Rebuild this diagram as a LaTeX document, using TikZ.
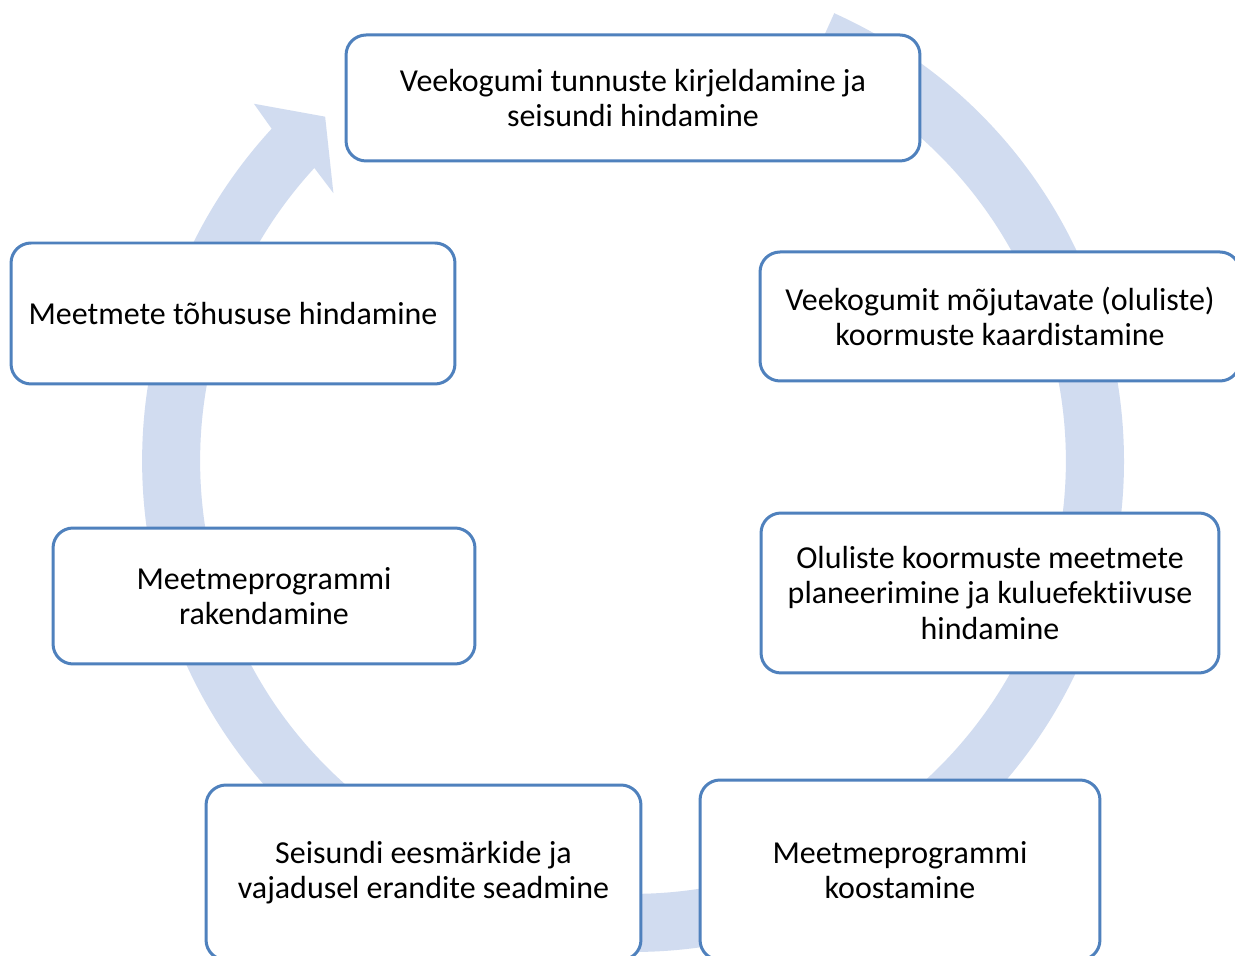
\documentclass[tikz,border=0pt]{standalone}
\usepackage{fontspec}
\setmainfont{Carlito}[Ligatures=NoCommon]
\definecolor{ringcol}{RGB}{209,220,240}
\definecolor{boxline}{RGB}{79,129,189}
\begin{document}
\begin{tikzpicture}[x=0.02cm,y=0.02cm,
  box/.style={draw=boxline, line width=0.06cm, fill=white, rounded corners=0.4cm,
    inner sep=0pt, align=center, font=\fontsize{18.2pt}{20pt}\selectfont, text=black}]
\useasboundingbox (0,0) rectangle (1235,956);
\clip (0,0) rectangle (1235,956);
\fill[white] (0,0) rectangle (1235,956);
% cycle ring with arrowhead
\begin{scope}[shift={(633,495)}]
\fill[ringcol] (65.8:9.82cm) arc[start angle=65.8, end angle=-222.6, radius=9.82cm]
  -- (136.7:10.42cm) -- (131.8:9.24cm) -- (138.2:8.04cm)
  -- (-222.6:8.66cm) arc[start angle=-222.6, end angle=65.8, radius=8.66cm] -- cycle;
\end{scope}
% boxes
\node[box, minimum width=11.48cm, minimum height=2.52cm] (b1) at (633,858)
  {Veekogumi tunnuste kirjeldamine ja\\seisundi hindamine};
\node[box, minimum width=9.6cm, minimum height=2.58cm] (b2) at (1000,639.5)
  {Veekogumit mõjutavate (oluliste)\\koormuste kaardistamine};
\node[box, minimum width=9.16cm, minimum height=3.2cm] (b3) at (990,363)
  {Oluliste koormuste meetmete\\planeerimine ja kuluefektiivuse\\hindamine};
\node[box, minimum width=8.0cm, minimum height=3.6cm] (b4) at (900,86)
  {Meetmeprogrammi\\koostamine};
\node[box, minimum width=8.7cm, minimum height=3.5cm] (b5) at (423.5,83.5)
  {Seisundi eesmärkide ja\\vajadusel erandite seadmine};
\node[box, minimum width=8.44cm, minimum height=2.72cm] (b6) at (264,360)
  {Meetmeprogrammi\\rakendamine};
\node[box, minimum width=8.88cm, minimum height=2.82cm] (b7) at (233,642.5)
  {Meetmete tõhususe hindamine};
\end{tikzpicture}
\end{document}
